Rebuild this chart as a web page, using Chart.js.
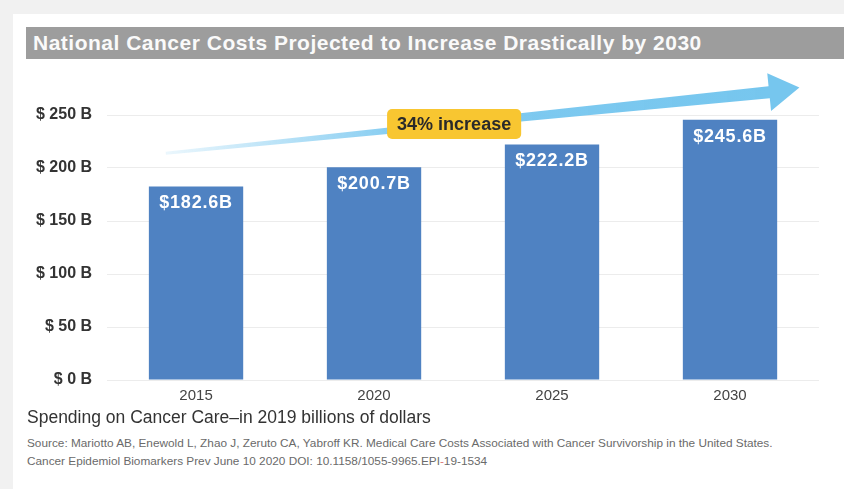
<!DOCTYPE html>
<html>
<head>
<meta charset="utf-8">
<script src="https://cdn.jsdelivr.net/npm/chart.js@4"></script>
<style>
  html, body { margin: 0; padding: 0; }
  body { width: 844px; height: 489px; background: #f1f1f1; position: relative; overflow: hidden;
         font-family: "Liberation Sans", Arial, sans-serif; }
  #panel { position: absolute; left: 13px; top: 14px; right: 0; bottom: 0; background: #fff; }
  #title { position: absolute; left: 26px; top: 27px; width: 818px; height: 32px; background: #9d9d9d;
           color: #fafafa; font-weight: bold; font-size: 21px; letter-spacing: 0.5px; line-height: 32px;
           padding-left: 7px; box-sizing: border-box; white-space: nowrap; }
  #wrap { position: absolute; left: 0; top: 62px; width: 844px; height: 354px; }
  #subtitle { position: absolute; left: 27px; top: 406px; font-size: 17.5px; line-height: 22px; color: #333; white-space: nowrap; }
  #source { position: absolute; left: 27px; top: 434px; font-size: 11.8px; line-height: 18px; color: #6a6a6a; white-space: nowrap; }
</style>
</head>
<body>
<div id="panel"></div>
<div id="title">National Cancer Costs Projected to Increase Drastically by 2030</div>
<div id="wrap"><canvas id="myChart"></canvas></div>
<div id="subtitle">Spending on Cancer Care&ndash;in 2019 billions of dollars</div>
<div id="source">Source: Mariotto AB, Enewold L, Zhao J, Zeruto CA, Yabroff KR. Medical Care Costs Associated with Cancer Survivorship in the United States.<br>Cancer Epidemiol Biomarkers Prev June 10 2020 DOI: 10.1158/1055-9965.EPI<span style="color:#d77">-</span>19-1534</div>

<script>
// spending per year, billions of dollars
const years = ['2015', '2020', '2025', '2030'];
const costs = [182.6, 200.7, 222.2, 245.6];
const yTicks = [0, 50, 100, 150, 200, 250];

// trend arrow, in axis units (category index, value)
const arrowTail = [-0.17, 214];
const arrowBase = [3.22, 271.5];
const arrowTip = [3.39, 276];
const increaseText = '34% increase';
const increasePos = [1.45, 241.5];

const font = '"Liberation Sans", Arial, sans-serif';

// value labels inside the top of each bar
const barLabels = {
    id: 'barLabels',
    afterDatasetsDraw(chart) {
        const ctx = chart.ctx;
        const meta = chart.getDatasetMeta(0);
        ctx.save();
        ctx.fillStyle = '#ffffff';
        ctx.font = 'bold 18px ' + font;
        ctx.textAlign = 'center';
        ctx.textBaseline = 'middle';
        ctx.letterSpacing = '0.8px';
        meta.data.forEach((bar, i) => {
            ctx.fillText('$' + costs[i].toFixed(1) + 'B', bar.x, bar.y + 17);
        });
        ctx.restore();
    }
};

// the blue arrow and the yellow tag
const trendArrow = {
    id: 'trendArrow',
    afterDraw(chart) {
        const ctx = chart.ctx;
        const xs = chart.scales.x, ys = chart.scales.y;
        // category scale takes index values
        const px = p => [xs.getPixelForValue(p[0]), ys.getPixelForValue(p[1])];
        const t = px(arrowTail), b = px(arrowBase), tip = px(arrowTip);

        const ang = Math.atan2(b[1] - t[1], b[0] - t[0]);
        const nx = -Math.sin(ang), ny = Math.cos(ang);
        const w0 = 1.5, w1 = 6, head = 19;

        const grad = ctx.createLinearGradient(t[0], 0, b[0], 0);
        grad.addColorStop(0, 'rgba(122,200,240,0.15)');
        grad.addColorStop(0.4, 'rgba(122,200,240,0.95)');
        grad.addColorStop(1, 'rgba(118,198,238,1)');

        ctx.save();
        ctx.fillStyle = grad;
        ctx.beginPath();
        ctx.moveTo(t[0] + nx * w0, t[1] + ny * w0);
        ctx.lineTo(b[0] + nx * w1, b[1] + ny * w1);
        ctx.lineTo(b[0] + nx * head, b[1] + ny * head);
        ctx.lineTo(tip[0], tip[1]);
        ctx.lineTo(b[0] - nx * head, b[1] - ny * head);
        ctx.lineTo(b[0] - nx * w1, b[1] - ny * w1);
        ctx.lineTo(t[0] - nx * w0, t[1] - ny * w0);
        ctx.closePath();
        ctx.fill();

        // tag
        const c = px(increasePos);
        ctx.font = 'bold 18px ' + font;
        const tw = ctx.measureText(increaseText).width;
        const bw = tw + 20, bh = 30;
        ctx.fillStyle = '#f8c631';
        ctx.beginPath();
        ctx.roundRect(c[0] - bw / 2, c[1] - bh / 2, bw, bh, 5);
        ctx.fill();
        ctx.fillStyle = '#2a2a2a';
        ctx.textAlign = 'center';
        ctx.textBaseline = 'middle';
        ctx.fillText(increaseText, c[0], c[1] + 1);
        ctx.restore();
    }
};

new Chart(document.getElementById('myChart'), {
    type: 'bar',
    data: {
        labels: years,
        datasets: [{
            data: costs,
            backgroundColor: '#4f82c2',
            barPercentage: 0.53,
            categoryPercentage: 1
        }]
    },
    options: {
        responsive: true,
        maintainAspectRatio: false,
        animation: false,
        layout: { padding: { top: 53, left: 21, right: 25, bottom: 4 } },
        plugins: { legend: { display: false }, tooltip: { enabled: false } },
        scales: {
            x: {
                grid: { display: false, drawTicks: false },
                border: { display: false },
                ticks: { color: '#444', font: { family: font, size: 15 }, padding: 7 }
            },
            y: {
                min: 0,
                max: 250,
                afterBuildTicks: axis => { axis.ticks = yTicks.map(v => ({ value: v })); },
                grid: { color: '#ececec', drawTicks: false },
                border: { display: false },
                ticks: {
                    color: '#333',
                    padding: 15,
                    font: { family: font, size: 16, weight: 'bold' },
                    callback: v => '$ ' + v + ' B'
                }
            }
        }
    },
    plugins: [barLabels, trendArrow]
});
</script>
</body>
</html>
